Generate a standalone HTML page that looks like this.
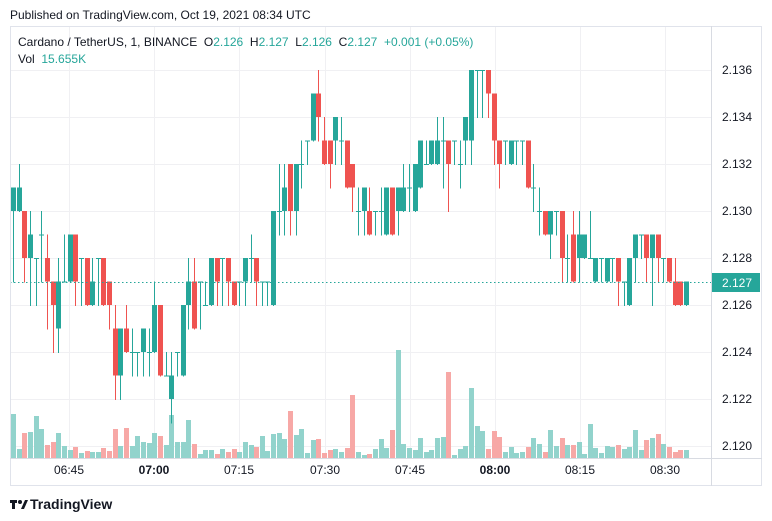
<!DOCTYPE html>
<html><head><meta charset="utf-8"><style>
html,body{margin:0;padding:0;background:#fff;width:772px;height:521px;overflow:hidden;font-family:"Liberation Sans","DejaVu Sans",sans-serif}
svg{position:absolute;left:0;top:0}
</style></head><body>
<svg id="s" width="772" height="521" xmlns="http://www.w3.org/2000/svg" font-family="Liberation Sans, DejaVu Sans, sans-serif">
<rect width="772" height="521" fill="#fff"/>
<g id="grid" stroke="#f0f0f3" stroke-width="1"></g>
<g id="vol"></g>
<g id="cdl"></g>
<line x1="10" y1="282.5" x2="711" y2="282.5" stroke="#26a69a" stroke-width="1" stroke-dasharray="1.5,2.5"/>
<rect x="10.5" y="26.5" width="751" height="459" fill="none" stroke="#e0e3eb"/>
<line x1="711.5" y1="26" x2="711.5" y2="486" stroke="#d8dbe2"/>
<line x1="10" y1="458.5" x2="762" y2="458.5" stroke="#d8dbe2"/>
<g id="pl" font-size="12" fill="#131722"></g>
<g id="tl" font-size="12" fill="#131722" text-anchor="middle"></g>
<rect x="712" y="273" width="48" height="19" fill="#26a69a"/>
<text x="722" y="287" font-size="12" fill="#fff">2.127</text>
<text x="10" y="19" font-size="12" fill="#131722">Published on TradingView.com, Oct 19, 2021 08:34 UTC</text>
<text x="18" y="46" font-size="12" fill="#131722" xml:space="preserve">Cardano / TetherUS, 1, BINANCE  O<tspan fill="#26a69a">2.126</tspan>  H<tspan fill="#26a69a">2.127</tspan>  L<tspan fill="#26a69a">2.126</tspan>  C<tspan fill="#26a69a">2.127</tspan>  <tspan fill="#26a69a">+0.001 (+0.05%)</tspan></text>
<text x="18" y="63" font-size="12" fill="#131722" xml:space="preserve">Vol  <tspan fill="#26a69a">15.655K</tspan></text>
<g transform="translate(10,497)"><rect x="0" y="3" width="7" height="3" fill="#131722"/><rect x="2" y="3" width="3" height="9" fill="#131722"/><circle cx="10" cy="5" r="2" fill="#131722"/><path d="M11 12 L15 3 L18 3 L14 12Z" fill="#131722"/></g>
<text x="30" y="509" font-size="14" font-weight="bold" fill="#131722">TradingView</text>
</svg>
<script>
var NS="http://www.w3.org/2000/svg";
function el(p,t,a){var e=document.createElementNS(NS,t);for(var k in a)e.setAttribute(k,a[k]);document.getElementById(p).appendChild(e);return e;}
function Y(k){return 446-23.5*k;}
// grid & price labels
for(var k=0;k<=16;k+=2){var y=Math.round(Y(k))+0.5;el("grid","line",{x1:10,y1:y,x2:711,y2:y});
 var t=el("pl","text",{x:722,y:Y(k)+4});t.textContent=(2.120+k*0.001).toFixed(3);}
var tx=[69,154,239,325,410,495,580,665],tn=["06:45","07:00","07:15","07:30","07:45","08:00","08:15","08:30"];
for(var i=0;i<tx.length;i++){el("grid","line",{x1:tx[i]+0.5,y1:27,x2:tx[i]+0.5,y2:458});
 var t=el("tl","text",{x:tx[i],y:474,"font-weight":(tn[i]=="07:00"||tn[i]=="08:00")?"bold":"normal"});t.textContent=tn[i];}
var C=[[10,11,7,11],[10,12,10,11],[10,10,7,8],[8,10,6,9],[8,8,6,8],[9,10,7,9],[8,9,5,7],[7,7,4,6],[5,8,4,7],[7,9,7,7],
[7,9,7,9],[9,9,6,7],[8,8,6,8],[8,8,6,6],[6,8,6,7],[8,8,6,8],[8,8,6,6],[7,7,5,6],[5,6,2,3],[3,5,2,5],
[5,6,4,4],[4,5,3,4],[4,4,3,4],[4,5,3,5],[4,5,3,4],[4,7,4,6],[6,6,3,3],[3,4,3,3],[2,4,1,3],[4,4,3,4],
[3,6,3,6],[6,8,5,7],[7,8,5,5],[7,7,5,7],[6,7,6,6],[6,8,6,8],[8,8,6,7],[8,8,6,8],[8,8,6,7],[7,7,6,6],
[7,7,6,7],[7,8,6,8],[8,9,7,8],[8,8,6,7],
[7,7,6,7],[7,7,6,7],[6,10,6,10],[10,12,9,10],[10,12,9,11],[12,12,9,10],[10,12,9,12],[12,13,11,12],[13,13,12,13],[13,15,13,15],
[15,16,13,14],[13,14,12,12],[13,13,11,12],[13,14,12,14],[13,14,12,13],[13,13,11,11],[12,12,10,11],[10,11,9,10],[10,11,9,11],[10,11,9,9],
[10,10,9,10],[10,11,9,10],[9,11,9,11],[11,11,9,9],[10,11,9,11],[10,12,10,11],[11,12,10,11],[10,12,10,12],[11,13,11,13],[12,13,12,12],
[12,13,12,13],[12,14,12,13],[13,14,11,13],[13,13,10,12],[13,13,12,13],[12,13,11,12],[13,14,12,14],[13,16,12,16],[16,16,14,16],[16,16,14,16],
[16,16,14,15],[15,15,12,13],
[13,13,11,12],[13,13,12,13],[12,13,12,13],[13,13,12,13],[13,13,12,13],[13,13,11,11],[11,12,10,11],[10,11,9,10],[10,10,9,9],[9,10,8,10],
[10,10,9,10],[10,10,7,8],[8,9,7,8],[9,10,7,7],[8,10,7,9],[8,9,8,9],[8,10,8,8],[7,8,7,8],[8,8,7,8],[7,8,7,8],
[8,8,7,8],[8,8,6,7],[7,7,6,7],[6,8,6,8],[8,9,7,9],[9,9,8,9],[9,9,7,8],[8,9,6,9],[9,9,7,8],[8,8,7,8],
[8,8,7,7],[7,8,6,6],[7,7,6,6],[6,7,6,7]];
var V=[414,449,433,432,416,429,445,442,433,446,450,447,453,451,452,452,448,451,429,446,428,446,436,442,443,433,436,445,415,442,442,420,444,454,450,450,454,449,452,449,452,442,445,447,
436,451,434,433,439,411,435,429,453,440,439,453,450,449,452,448,395,452,455,454,449,439,448,430,350,444,448,450,438,452,450,438,437,372,455,449,446,388,426,431,449,431,
437,452,447,453,452,447,438,444,452,430,446,438,445,445,442,454,424,448,453,446,447,445,449,447,430,450,440,438,434,444,447,452,450,450];
for(var i=0;i<C.length;i++){
 var c=C[i],x=13+i*5.655,up=c[3]>=c[0],col=up?"#26a69a":"#ef5350";
 var xr=Math.round(x);
 el("vol","rect",{x:xr-2,y:V[i],width:5,height:458-V[i],fill:up?"#92d3cc":"#f7a8a6"});
 el("cdl","rect",{x:xr,y:Y(c[1]),width:1,height:Y(c[2])-Y(c[1])+1,fill:col});
 var t=Math.min(Y(c[0]),Y(c[3])),b=Math.max(Y(c[0]),Y(c[3]));
 el("cdl","rect",{x:xr-2,y:t,width:5,height:Math.max(b-t,1),fill:col});
}
</script>
</body></html>
